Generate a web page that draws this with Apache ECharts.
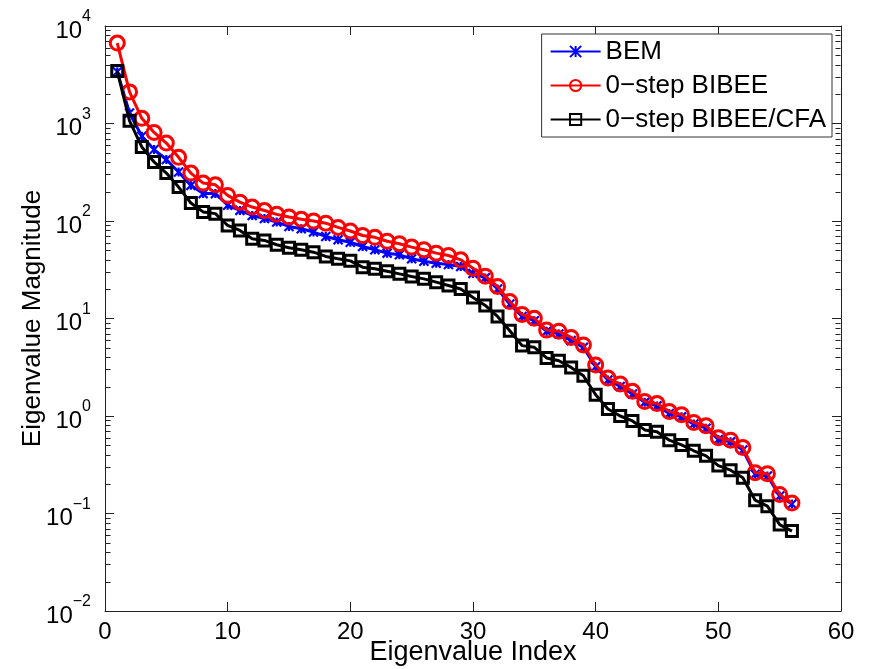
<!DOCTYPE html>
<html>
<head>
<meta charset="utf-8">
<title>Eigenvalue Magnitude</title>
<script src="https://cdn.jsdelivr.net/npm/echarts@6/dist/echarts.min.js"></script>
<style>
  html, body { margin: 0; padding: 0; background: #fff; }
  #chart { width: 869px; height: 669px; }
</style>
</head>
<body>
<div id="chart"></div>
<script>
// values (index 1..56)
const bem = [3400, 1280, 740, 540, 427, 318, 232, 191, 191, 145,
  128.5, 114, 106, 97.5, 88, 83.3, 77, 69.5, 64.3, 60.5,
  54.8, 50.7, 46.8, 45, 41, 38.7, 36.9, 35.8, 34.1, 29,
  26.1, 20.1, 14.1, 10.5, 9.5, 7.4, 6.95, 5.93, 5.06, 3.2,
  2.34, 2.01, 1.68, 1.38, 1.27, 1.06, 0.98, 0.826, 0.75, 0.574,
  0.543, 0.447, 0.253, 0.243, 0.151, 0.125]
const bibee = [6680, 2110, 1130, 810, 630, 450, 310, 245, 235, 183,
  156, 139, 128, 117, 110, 104, 100, 95, 86, 79,
  71, 68, 62, 58.5, 54, 50.7, 46.8, 44.3, 40, 32.8,
  27.2, 21.3, 14.9, 11, 10.05, 7.6, 7.4, 6.4, 5.35, 3.33,
  2.45, 2.13, 1.79, 1.41, 1.34, 1.11, 1.03, 0.857, 0.793, 0.6,
  0.565, 0.474, 0.262, 0.256, 0.157, 0.128]
const bibeeCfa = [3450, 1065, 575, 403, 310, 223, 153, 124, 119, 90,
  80, 65.8, 63.2, 57.1, 53.2, 50.7, 47.9, 43.3, 41, 39,
  33.6, 32.4, 30.5, 28.7, 27, 25.5, 23.6, 21.8, 20.1, 16.4,
  13.6, 10.5, 7.5, 5.27, 5.06, 3.94, 3.69, 3.15, 2.59, 1.65,
  1.18, 1.0, 0.89, 0.72, 0.69, 0.565, 0.505, 0.44, 0.39, 0.31,
  0.278, 0.233, 0.137, 0.119, 0.077, 0.066]

const xTicks = [0, 10, 20, 30, 40, 50, 60]
const yTicks = [0.01, 0.1, 1, 10, 100, 1000, 10000]
// minor ticks 2..9 in every decade
const minorTicks = []
for (let k = 0; k < yTicks.length - 1; k++) {
  for (let m = 2; m <= 9; m++) minorTicks.push(+(m * yTicks[k]).toPrecision(3))
}

const font = 'Liberation Sans, Arial, Helvetica, sans-serif'
const axisColor = '#222'
const minorLen = 5

function pairs(values) {
  return values.map((v, i) => [i + 1, v])
}

const chart = echarts.init(document.getElementById('chart'))

const baseX = {
  type: 'value',
  min: xTicks[0],
  max: xTicks[xTicks.length - 1],
  interval: 10,
  axisLine: { show: true, onZero: false, lineStyle: { color: axisColor, width: 1 } },
  axisTick: { show: true, inside: true, length: 9, lineStyle: { color: axisColor } },
  splitLine: { show: false }
}
const baseY = {
  type: 'log',
  logBase: 10,
  min: yTicks[0],
  max: yTicks[yTicks.length - 1],
  axisLine: { show: true, onZero: false, lineStyle: { color: axisColor, width: 1 } },
  axisTick: { show: true, inside: true, length: 9, lineStyle: { color: axisColor } },
  splitLine: { show: false }
}

// short inward minor ticks on both y edges, placed through the log scale
function renderMinorTick(params, api) {
  const v = api.value(1)
  const pl = api.coord([xTicks[0], v])
  const pr = api.coord([xTicks[xTicks.length - 1], v])
  const y = Math.round(pl[1]) + 0.5
  const xl = Math.round(pl[0]) + 0.5
  const xr = Math.round(pr[0]) - 0.5
  const style = { stroke: axisColor, lineWidth: 1 }
  return {
    type: 'group',
    children: [
      { type: 'line', shape: { x1: xl, y1: y, x2: xl + minorLen, y2: y }, style: style },
      { type: 'line', shape: { x1: xr, y1: y, x2: xr - minorLen, y2: y }, style: style }
    ]
  }
}

chart.setOption({
  animation: false,
  textStyle: { fontFamily: font },
  grid: { left: 105, right: 28, top: 26, bottom: 58, containLabel: false, outerBoundsMode: 'none' },
  legend: {
    right: 37,
    top: 34,
    orient: 'vertical',
    align: 'left',
    backgroundColor: '#fff',
    borderColor: '#333',
    borderWidth: 1,
    padding: [3, 6, 3, 8],
    itemGap: 5,
    itemWidth: 50,
    itemHeight: 14,
    textStyle: { fontFamily: font, fontSize: 26, color: '#000', lineHeight: 29 },
    data: ['BEM', '0\u2212step BIBEE', '0\u2212step BIBEE/CFA']
  },
  xAxis: [
    Object.assign({}, baseX, {
      position: 'bottom',
      name: 'Eigenvalue Index',
      nameLocation: 'middle',
      nameGap: 28,
      nameMoveOverlap: false,
      nameTextStyle: { fontSize: 27, color: '#000', fontFamily: font },
      axisLabel: { show: true, margin: 9, fontSize: 24, color: '#000', fontFamily: font }
    }),
    Object.assign({}, baseX, {
      position: 'top',
      axisLabel: { show: false }
    })
  ],
  yAxis: [
    Object.assign({}, baseY, {
      position: 'left',
      name: 'Eigenvalue Magnitude',
      nameLocation: 'middle',
      nameGap: 59,
      nameMoveOverlap: false,
      nameRotate: 90,
      nameTextStyle: { fontSize: 26, color: '#000', fontFamily: font },
      axisLabel: {
        show: true,
        margin: 14,
        formatter: function (v) {
          const e = Math.round(Math.log10(v))
          return '{b|10}{s|' + (e < 0 ? '\u2212' + (-e) : e) + '}'
        },
        rich: {
          b: { fontSize: 24, color: '#000', fontFamily: font, lineHeight: 34, verticalAlign: 'bottom' },
          s: { fontSize: 16, color: '#000', fontFamily: font, lineHeight: 34, verticalAlign: 'top' }
        }
      }
    }),
    Object.assign({}, baseY, {
      position: 'right',
      axisLabel: { show: false }
    })
  ],
  series: [
    {
      name: 'minor ticks',
      type: 'custom',
      coordinateSystem: 'cartesian2d',
      xAxisIndex: 0,
      yAxisIndex: 0,
      silent: true,
      clip: false,
      encode: { x: 0, y: 1 },
      data: minorTicks.map(v => [xTicks[0], v]),
      renderItem: renderMinorTick,
      z: 1
    },
    {
      name: 'BEM',
      type: 'line',
      xAxisIndex: 0,
      yAxisIndex: 0,
      data: pairs(bem),
      symbol: 'path://M0,0L10,10M10,0L0,10M5,0L5,10',
      symbolSize: 9,
      lineStyle: { color: '#0000ff', width: 3 },
      itemStyle: { color: '#0000ff', borderColor: '#0000ff', borderWidth: 2.2 },
      z: 2
    },
    {
      name: '0\u2212step BIBEE',
      type: 'line',
      xAxisIndex: 0,
      yAxisIndex: 0,
      data: pairs(bibee),
      symbol: 'circle',
      symbolSize: 14,
      lineStyle: { color: '#ff0000', width: 3 },
      itemStyle: { color: 'rgba(255,255,255,0)', borderColor: '#ff0000', borderWidth: 3 },
      z: 3
    },
    {
      name: '0\u2212step BIBEE/CFA',
      type: 'line',
      xAxisIndex: 0,
      yAxisIndex: 0,
      data: pairs(bibeeCfa),
      symbol: 'rect',
      symbolSize: 11,
      lineStyle: { color: '#000000', width: 3 },
      itemStyle: { color: 'rgba(255,255,255,0)', borderColor: '#000000', borderWidth: 3 },
      z: 4
    }
  ]
})
</script>
</body>
</html>
